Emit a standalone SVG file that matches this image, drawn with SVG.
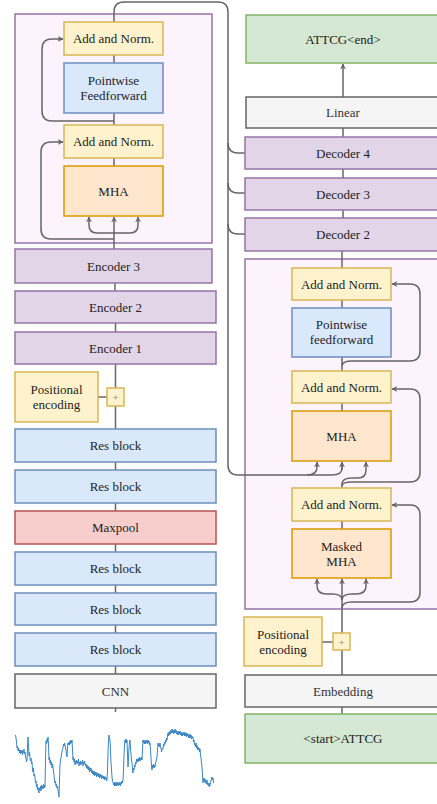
<svg xmlns="http://www.w3.org/2000/svg" width="437" height="804" viewBox="0 0 437 804" font-family="'Liberation Serif', 'DejaVu Serif', serif">
<defs>
<marker id="ah" viewBox="0 0 10 10" refX="9" refY="5" markerWidth="6" markerHeight="6" orient="auto" markerUnits="userSpaceOnUse">
<path d="M0,0 L10,5 L0,10 L3,5 Z" fill="#666"/>
</marker>
<style>
text{font-family:'Liberation Serif','DejaVu Serif',serif;font-size:13px;fill:#222;text-anchor:middle;dominant-baseline:central}
.pur{fill:#e1d5e7;stroke:#9673a6;stroke-width:1.5}
.out{fill:#fdf3fd;stroke:#9673a6;stroke-width:1.5}
.yel{fill:#fff2cc;stroke:#d6b656;stroke-width:1.5}
.blu{fill:#dae8fc;stroke:#6c8ebf;stroke-width:1.5}
.ora{fill:#ffe6cc;stroke:#d79b00;stroke-width:1.5}
.red{fill:#f8cecc;stroke:#b85450;stroke-width:1.5}
.grn{fill:#d5e8d4;stroke:#82b366;stroke-width:1.5}
.gry{fill:#f5f5f5;stroke:#666;stroke-width:1.5}
.gt{fill:#333}
.c{fill:none;stroke:#666;stroke-width:1.5}
.a{marker-end:url(#ah)}
</style>
</defs>
<rect width="437" height="804" fill="#fff"/>

<!-- containers -->
<g id="encoder-block"><rect class="out" x="15" y="14" width="197" height="229"/></g>
<g id="decoder-block"><rect class="out" x="245" y="259" width="200" height="350"/></g>

<!-- connectors -->
<g id="connectors">
<path class="c a" d="M114,249 V217"/>
<path class="c a" d="M114,233 H97 Q89,233 89,225 V217"/>
<path class="c a" d="M114,233 H130 Q138,233 138,225 V217"/>
<path class="c a" d="M114,239 H51 Q41,239 41,229 V152 Q41,142 51,142 H63"/>
<path class="c" d="M114,166 V158"/>
<path class="c" d="M114,125 V113"/>
<path class="c a" d="M114,121 H52 Q42,121 42,111 V49 Q42,39 52,39 H63"/>
<path class="c" d="M114,63 V55"/>
<path class="c" d="M114,22 V12 Q114,2 124,2 H218 Q228,2 228,12 V465 Q228,475 238,475 H332 Q342,475 342,468 V463"/>
<path class="c a" d="M342,470 V462"/>
<path class="c a" d="M307,475 Q317,475 317,467 V462"/>
<path class="c" d="M228,143 Q228,153 238,153 H245"/>
<path class="c" d="M228,183 Q228,193 238,193 H245"/>
<path class="c" d="M228,224 Q228,234 238,234 H245"/>
<path class="c" d="M115,283 V291"/>
<path class="c" d="M115.5,323 V332"/>
<path class="c" d="M115.5,364 V388"/>
<path class="c" d="M115.5,406 V429"/>
<path class="c" d="M98,397 H107"/>
<path class="c" d="M115.5,462 V470"/>
<path class="c" d="M115.5,503 V511"/>
<path class="c" d="M115.5,544 V552"/>
<path class="c" d="M115.5,585 V593"/>
<path class="c" d="M115.5,625 V633"/>
<path class="c" d="M115.5,666 V674"/>
<path class="c" d="M115.5,708 V712"/>
<path class="c a" d="M343,97 V64"/>
<path class="c" d="M343,128 V137"/>
<path class="c" d="M343,169 V178"/>
<path class="c" d="M343,210 V218"/>
<path class="c" d="M342,251 V268"/>
<path class="c" d="M342,300 V308"/>
<path class="c" d="M342,357 V371"/>
<path class="c a" d="M342,366 Q342,361 352,361 H410 Q420,361 420,351 V294 Q420,284 410,284 H392"/>
<path class="c" d="M342,403 V411"/>
<path class="c a" d="M342,488 V484 Q342,478 352,478 H358 Q366,478 366,470 V462"/>
<path class="c a" d="M342,486 Q342,482 352,482 H410 Q420,482 420,472 V399 Q420,389 410,389 H392"/>
<path class="c" d="M342,529 V521"/>
<path class="c a" d="M342,633 V579"/>
<path class="c a" d="M342,600 Q342,594 332,594 H327 Q317,594 317,586 V579"/>
<path class="c a" d="M342,600 Q342,594 352,594 H356 Q366,594 366,586 V579"/>
<path class="c a" d="M342,608 Q342,602 352,602 H410 Q420,602 420,592 V515 Q420,505 410,505 H392"/>
<path class="c" d="M322,642 H333"/>
<path class="c" d="M342,650 V675"/>
<path class="c" d="M342,707 V714"/>
</g>

<g id="enc-addnorm1"><rect class="yel" x="64" y="22" width="99" height="33"/><text x="113.5" y="38.5">Add and Norm.</text></g>
<g id="enc-ff"><rect class="blu" x="64" y="63" width="99" height="50"/><text x="113.5" y="80">Pointwise</text><text x="113.5" y="95">Feedforward</text></g>
<g id="enc-addnorm2"><rect class="yel" x="64" y="125" width="99" height="33"/><text x="113.5" y="141.5">Add and Norm.</text></g>
<g id="enc-mha"><rect class="ora" x="64" y="166" width="99" height="50"/><text x="113.5" y="191">MHA</text></g>

<g id="encoder3"><rect class="pur" x="15" y="249" width="197" height="34"/><text x="113.5" y="266">Encoder 3</text></g>
<g id="encoder2"><rect class="pur" x="15" y="291" width="201" height="32"/><text x="115.5" y="307">Encoder 2</text></g>
<g id="encoder1"><rect class="pur" x="15" y="332" width="201" height="32"/><text x="115.5" y="348">Encoder 1</text></g>
<g id="enc-posenc"><rect class="yel" x="15" y="372" width="83" height="50"/><text x="56.5" y="389">Positional</text><text x="56.5" y="404">encoding</text></g>
<g id="enc-plus"><rect class="yel" x="107" y="388" width="17" height="18"/><text x="115.5" y="397" style="font-size:11px;fill:#888">+</text></g>
<g id="res1"><rect class="blu" x="15" y="429" width="201" height="33"/><text x="115.5" y="445.5">Res block</text></g>
<g id="res2"><rect class="blu" x="15" y="470" width="201" height="33"/><text x="115.5" y="486.5">Res block</text></g>
<g id="maxpool"><rect class="red" x="15" y="511" width="201" height="33"/><text x="115.5" y="527.5">Maxpool</text></g>
<g id="res3"><rect class="blu" x="15" y="552" width="201" height="33"/><text x="115.5" y="568.5">Res block</text></g>
<g id="res4"><rect class="blu" x="15" y="593" width="201" height="32"/><text x="115.5" y="609">Res block</text></g>
<g id="res5"><rect class="blu" x="15" y="633" width="201" height="33"/><text x="115.5" y="649.5">Res block</text></g>
<g id="cnn"><rect class="gry" x="15" y="674" width="201" height="34"/><text class="gt" x="115.5" y="691">CNN</text></g>

<g id="signal">
<path fill="none" stroke="#3a86c4" stroke-width="1" stroke-linejoin="round" d="M15.5,735 L16,738 16.5,742 17,748 17.5,746 18,751 18.5,748 19,749 19.5,753 20,750 20.5,754 21,750 21.5,753 22,750 22.5,755 23,751 23.5,753 24,749 24.5,754 25,752 25.5,757 26,758 26.5,762 27,760 27.5,748 28,737 28.5,745 29,756 29.5,752 30,758 30.5,761 31,758 31.5,764 32,762 32.5,770 33,772 33.5,768 34,776 34.5,774 35,778 35.5,783 36,781 36.5,787 37,784 37.5,790 38,787 38.5,792 39,793 39.5,788 40,790 40.5,786 41,791 41.5,785 42,789 42.5,786 43,789 43.5,784 44,788 44.5,785 45,787 45.5,760 46,741 46.5,744 47,739 47.5,742 48,737 48.5,745 49,760 49.5,757 50,763 50.5,760 51,765 51.5,762 52,768 52.5,764 53,767 53.5,772 54,775 54.5,780 55,783 55.5,781 56,786 56.5,784 57,788 57.5,786 58,790 58.5,794 59,797 59.5,780 60,765 60.5,760 61,758 61.5,754 62,752 62.5,749 63,748 63.5,744 64,746 64.5,743 65,745 65.5,748 66,750 66.5,755 67,757 67.5,748 68,743 68.5,745 69,742 69.5,745 70,741 70.5,744 71,740 71.5,743 72,740 72.5,750 73,760 73.5,757 74,762 74.5,759 75,765 75.5,761 76,763 76.5,760 77,764 77.5,761 78,762 78.5,759 79,766 79.5,762 80,764 80.5,761 81,765 81.5,762 82,763 82.5,760 83,766 83.5,762 84,764 84.5,761 85,763 85.5,766 86,764 86.5,768 87,765 87.5,769 88,766 88.5,770 89,767 89.5,772 90,768 90.5,771 91,768 91.5,773 92,770 92.5,774 93,771 93.5,775 94,771 94.5,776 95,772 95.5,775 96,772 96.5,777 97,773 97.5,776 98,773 98.5,777 99,774 99.5,778 100,774 100.5,777 101,775 101.5,779 102,775 102.5,778 103,776 103.5,779 104,776 104.5,780 105,777 105.5,779 106,777 106.5,781 107,780 107.5,770 108,752 108.5,740 109,735 109.5,738 110,740 110.5,752 111,762 111.5,770 112,777 112.5,781 113,782 113.5,785 114,783 114.5,786 115,782 115.5,786 116,783 116.5,786 117,782 117.5,785 118,783 118.5,786 119,782 119.5,785 120,783 120.5,786 121,782 121.5,784 122,781 122.5,783 123,780 123.5,770 124,755 124.5,745 125,740 125.5,743 126,739 126.5,743 127,740 127.5,755 128,767 128.5,758 129,748 129.5,743 130,740 130.5,748 131,754 131.5,760 132,763 132.5,770 133,773 133.5,768 134,770 134.5,765 135,767 135.5,762 136,764 136.5,759 137,762 137.5,759 138,762 138.5,758 139,761 139.5,757 140,761 140.5,758 141,760 141.5,757 142,760 142.5,750 143,740 143.5,743 144,740 144.5,744 145,741 145.5,744 146,740 146.5,743 147,740 147.5,744 148,740 148.5,743 149,741 149.5,745 150,743 150.5,750 151,758 151.5,766 152,770 152.5,765 153,768 153.5,764 154,768 154.5,765 155,767 155.5,763 156,762 156.5,759 157,757 157.5,750 158,743 158.5,746 159,744 159.5,747 160,743 160.5,747 161,748 161.5,752 162,750 162.5,748 163,749 163.5,744 164,746 164.5,742 165,744 165.5,740 166,742 166.5,738 167,740 167.5,736 168,733 168.5,736 169,732 169.5,735 170,731 170.5,734 171,730 171.5,733 172,729 172.5,733 173,730 173.5,734 174,730 174.5,733 175,729 175.5,733 176,730 176.5,734 177,731 177.5,735 178,732 178.5,735 179,731 179.5,734 180,731 180.5,735 181,732 181.5,736 182,733 182.5,736 183,732 183.5,735 184,733 184.5,736 185,732 185.5,736 186,733 186.5,737 187,733 187.5,736 188,734 188.5,738 189,735 189.5,738 190,734 190.5,738 191,735 191.5,739 192,736 192.5,738 193,737 193.5,742 194,740 194.5,745 195,743 195.5,747 196,743 196.5,748 197,745 197.5,750 198,747 198.5,750 199,748 199.5,752 200,749 200.5,755 201,758 201.5,763 202,767 202.5,775 203,783 203.5,779 204,778 204.5,782 205,779 205.5,783 206,781 206.5,784 207,780 207.5,785 208,783 208.5,786 209,783 209.5,787 210,785 210.5,783 211,781 211.5,778 212,777 212.5,780 213,778 213.5,783"/>
</g>

<g id="output"><rect class="grn" x="246" y="15" width="195" height="48"/><text x="343" y="39">ATTCG&lt;end&gt;</text></g>
<g id="linear"><rect class="gry" x="246" y="97" width="195" height="31"/><text class="gt" x="343" y="112.5">Linear</text></g>
<g id="decoder4"><rect class="pur" x="245" y="137" width="196" height="32"/><text x="343" y="153">Decoder 4</text></g>
<g id="decoder3"><rect class="pur" x="245" y="178" width="196" height="32"/><text x="343" y="194">Decoder 3</text></g>
<g id="decoder2"><rect class="pur" x="245" y="218" width="196" height="33"/><text x="343" y="234.5">Decoder 2</text></g>

<g id="dec-addnorm1"><rect class="yel" x="292" y="268" width="99" height="32"/><text x="341.5" y="284">Add and Norm.</text></g>
<g id="dec-ff"><rect class="blu" x="292" y="308" width="99" height="49"/><text x="341.5" y="324.5">Pointwise</text><text x="341.5" y="339.5">feedforward</text></g>
<g id="dec-addnorm2"><rect class="yel" x="292" y="371" width="99" height="32"/><text x="341.5" y="387">Add and Norm.</text></g>
<g id="dec-mha"><rect class="ora" x="292" y="411" width="99" height="50"/><text x="341.5" y="436">MHA</text></g>
<g id="dec-addnorm3"><rect class="yel" x="292" y="488" width="99" height="33"/><text x="341.5" y="504.5">Add and Norm.</text></g>
<g id="dec-masked-mha"><rect class="ora" x="292" y="529" width="99" height="49"/><text x="341.5" y="546">Masked</text><text x="341.5" y="561">MHA</text></g>

<g id="dec-posenc"><rect class="yel" x="244" y="617" width="78" height="49"/><text x="283" y="634">Positional</text><text x="283" y="649">encoding</text></g>
<g id="dec-plus"><rect class="yel" x="333" y="633" width="17" height="17"/><text x="341.5" y="641.5" style="font-size:11px;fill:#888">+</text></g>
<g id="embedding"><rect class="gry" x="245" y="675" width="196" height="32"/><text class="gt" x="343" y="691">Embedding</text></g>
<g id="input"><rect class="grn" x="245" y="714" width="196" height="49"/><text x="343" y="738.5">&lt;start&gt;ATTCG</text></g>
</svg>
